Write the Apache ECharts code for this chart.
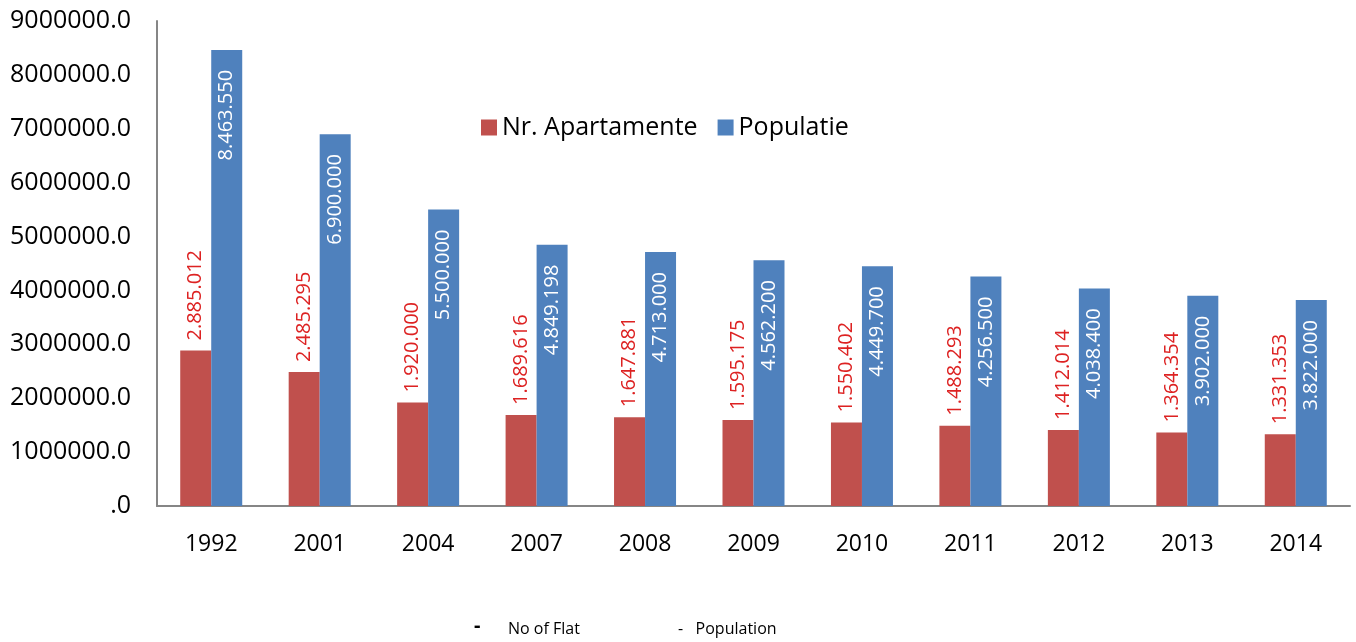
<!DOCTYPE html>
<html>
<head>
<meta charset="utf-8">
<script src="https://cdn.jsdelivr.net/npm/echarts@6/dist/echarts.min.js"></script>
<style>
  html, body { margin: 0; padding: 0; background: #fff; }
  #chart { width: 1356px; height: 642px; }
</style>
</head>
<body>
<div id="chart"></div>
<script>
var years = ['1992', '2001', '2004', '2007', '2008', '2009', '2010', '2011', '2012', '2013', '2014'];
var apartamente = [2885012, 2485295, 1920000, 1689616, 1647881, 1595175, 1550402, 1488293, 1412014, 1364354, 1331353];
var populatie = [8463550, 6900000, 5500000, 4849198, 4713000, 4562200, 4449700, 4256500, 4038400, 3902000, 3822000];

var font = 'Open Sans';

// 8463550 -> 8.463.550
function dotted(v) {
  return String(v).replace(/\B(?=(\d{3})+(?!\d))/g, '.');
}

var chart = echarts.init(document.getElementById('chart'));
var option = {
  backgroundColor: '#fff',
  animation: false,
  textStyle: { fontFamily: font },
  legend: {
    left: 476,
    top: 110,
    itemWidth: 16,
    itemHeight: 16,
    itemGap: 20,
    icon: 'rect',
    textStyle: { fontSize: 25, color: '#000', fontFamily: font },
    data: ['Nr. Apartamente', 'Populatie']
  },
  grid: { left: 157, right: 6, top: 21, bottom: 136 },
  xAxis: {
    type: 'category',
    data: years,
    axisLine: { lineStyle: { color: '#868686', width: 2 } },
    axisTick: { show: false },
    axisLabel: { color: '#000', fontSize: 23, margin: 27 }
  },
  yAxis: {
    type: 'value',
    min: 0,
    max: 9000000,
    interval: 1000000,
    axisLine: { show: true, lineStyle: { color: '#868686', width: 2 } },
    axisTick: { show: false },
    splitLine: { show: false },
    axisLabel: {
      color: '#000',
      fontSize: 25,
      margin: 26,
      formatter: function (v) { return v === 0 ? '.0' : v + '.0'; }
    }
  },
  series: [
    {
      name: 'Nr. Apartamente',
      type: 'bar',
      data: apartamente,
      barWidth: 31,
      barGap: '0%',
      itemStyle: { color: '#C0504D' },
      label: {
        show: true,
        position: 'top',
        rotate: 90,
        align: 'left',
        verticalAlign: 'middle',
        distance: 10,
        color: '#dd2222',
        fontSize: 20,
        formatter: function (p) { return dotted(p.value); }
      }
    },
    {
      name: 'Populatie',
      type: 'bar',
      data: populatie,
      barWidth: 31,
      itemStyle: { color: '#4F81BD' },
      label: {
        show: true,
        position: 'insideTop',
        rotate: 90,
        align: 'right',
        verticalAlign: 'middle',
        distance: 20,
        color: '#fff',
        fontSize: 20,
        formatter: function (p) { return dotted(p.value); }
      }
    }
  ],
  graphic: [
    { type: 'text', left: 474, top: 616, style: { text: '-', fontSize: 20, fontWeight: 'bold', fontFamily: font, fill: '#000' } },
    { type: 'text', left: 508, top: 621, style: { text: 'No of Flat', fontSize: 16, fontFamily: font, fill: '#000' } },
    { type: 'text', left: 678, top: 621, style: { text: '-   Population', fontSize: 16, fontFamily: font, fill: '#000' } }
  ]
};
chart.setOption(option);
</script>
</body>
</html>
